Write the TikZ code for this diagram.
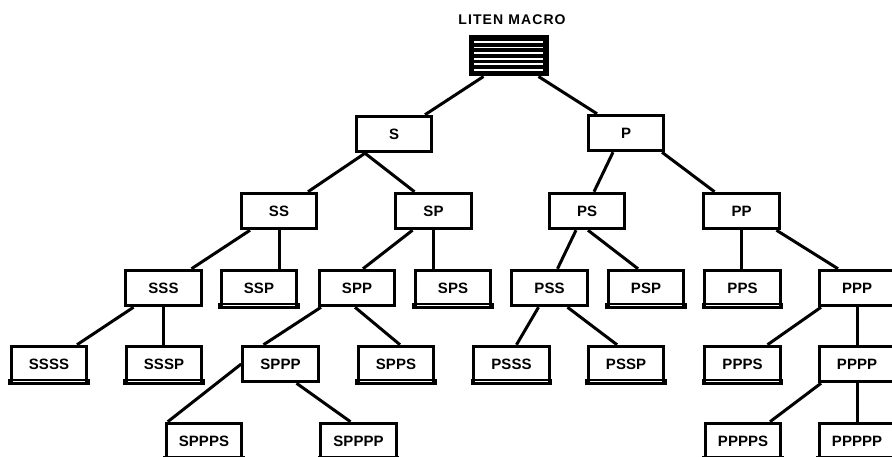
\documentclass[tikz,border=0pt]{standalone}
\usepackage{fontspec}
\setmainfont{Liberation Sans}
\begin{document}
\begin{tikzpicture}[x=1pt,y=-1pt,
  box/.style={draw, line width=3pt, minimum width=75.5pt, minimum height=35.5pt, inner sep=0pt, fill=white,
    font=\bfseries\fontsize{15pt}{15pt}\selectfont},
  conn/.style={line width=3pt},
  band/.style={fill=black},
  bandline/.style={draw=white, line width=0.8pt}]
\useasboundingbox (0,0) rectangle (892,457);
% title
\node (title) at (512,20) {\bfseries\addfontfeatures{LetterSpace=8}\fontsize{14pt}{14pt}\selectfont LITEN MACRO};
% root
\node[box, fill=black, minimum width=77pt, minimum height=38pt] (root) at (508.5,56) {};
\foreach \yy in {42,47.6,53.2,58.8,64.4,70} {
  \draw[white, line width=1.8pt] (474,\yy) -- (543,\yy);
}
% level 1
\node[box] (S) at (394,134) {S};
\node[box] (P) at (626,133) {P};
% level 2
\node[box] (SS) at (279,211) {SS};
\node[box] (SP) at (433.5,211) {SP};
\node[box] (PS) at (587,211) {PS};
\node[box] (PP) at (741.5,211) {PP};
% level 3
\node[box] (SSS) at (163.5,288) {SSS};
\node[box] (SSP) at (259,288) {SSP};
\node[box] (SPP) at (357,288) {SPP};
\node[box] (SPS) at (453,288) {SPS};
\node[box] (PSS) at (549.5,288) {PSS};
\node[box] (PSP) at (646,288) {PSP};
\node[box] (PPS) at (742.5,288) {PPS};
\node[box] (PPP) at (857,288) {PPP};
% level 4
\node[box] (SSSS) at (49,364) {SSSS};
\node[box] (SSSP) at (164,364) {SSSP};
\node[box] (SPPP) at (280.5,364) {SPPP};
\node[box] (SPPS) at (396,364) {SPPS};
\node[box] (PSSS) at (511.5,364) {PSSS};
\node[box] (PSSP) at (626,364) {PSSP};
\node[box] (PPPS) at (742.5,364) {PPPS};
\node[box] (PPPP) at (857,364) {PPPP};
% level 5
\node[box] (SPPPS) at (204,441) {SPPPS};
\node[box] (SPPPP) at (358.5,441) {SPPPP};
\node[box] (PPPPS) at (743,441) {PPPPS};
\node[box] (PPPPP) at (857,441) {PPPPP};
% leaf bands
\foreach \n in {SSP,SPS,PSP,PPS,SSSS,SSSP,SPPS,PSSS,PSSP,PPPS,SPPPS,SPPPP,PPPPS,PPPPP} {
  \fill[band] ([xshift=-1.5pt,yshift=-1.5pt]\n.south west) rectangle ([xshift=1.5pt,yshift=4.5pt]\n.south east);
  \draw[bandline] ([xshift=3pt,yshift=1.8pt]\n.south west) -- ([xshift=-3pt,yshift=1.8pt]\n.south east);
}
% connectors
\draw[conn] ([xshift=-25pt]root.south) -- ([xshift=31pt]S.north);
\draw[conn] ([xshift=30pt]root.south) -- ([xshift=-29pt]P.north);
\draw[conn] ([xshift=-29pt]S.south) -- ([xshift=29pt]SS.north);
\draw[conn] ([xshift=-29pt]S.south) -- ([xshift=-19pt]SP.north);
\draw[conn] ([xshift=-13pt]P.south) -- ([xshift=7pt]PS.north);
\draw[conn] ([xshift=36pt]P.south) -- ([xshift=-27pt]PP.north);
\draw[conn] ([xshift=-29pt]SS.south) -- ([xshift=28pt]SSS.north);
\draw[conn] (SS.south) -- (SS.south |- SSP.north);
\draw[conn] ([xshift=-21pt]SP.south) -- ([xshift=6pt]SPP.north);
\draw[conn] (SP.south) -- (SP.south |- SPS.north);
\draw[conn] ([xshift=-11pt]PS.south) -- ([xshift=8pt]PSS.north);
\draw[conn] ([xshift=1pt]PS.south) -- ([xshift=-8pt]PSP.north);
\draw[conn] (PP.south) -- (PP.south |- PPS.north);
\draw[conn] ([xshift=35pt]PP.south) -- ([xshift=-19pt]PPP.north);
\draw[conn] ([xshift=-30pt]SSS.south) -- ([xshift=28pt]SSSS.north);
\draw[conn] (SSS.south) -- (SSS.south |- SSSP.north);
\draw[conn] ([xshift=-36pt]SPP.south) -- ([xshift=-17pt]SPPP.north);
\draw[conn] ([xshift=-2pt]SPP.south) -- ([xshift=4pt]SPPS.north);
\draw[conn] ([xshift=-11pt]PSS.south) -- ([xshift=5pt]PSSS.north);
\draw[conn] ([xshift=18pt]PSS.south) -- ([xshift=-9pt]PSSP.north);
\draw[conn] ([xshift=-36pt]PPP.south) -- ([xshift=25pt]PPPS.north);
\draw[conn] (PPP.south) -- (PPP.south |- PPPP.north);
\draw[conn] (SPPP.west) -- ([xshift=3pt]SPPPS.north west);
\draw[conn] ([xshift=16pt]SPPP.south) -- ([xshift=-8pt]SPPPP.north);
\draw[conn] ([xshift=-36pt]PPPP.south) -- ([xshift=27pt]PPPPS.north);
\draw[conn] (PPPP.south) -- (PPPP.south |- PPPPP.north);
\end{tikzpicture}
\end{document}
